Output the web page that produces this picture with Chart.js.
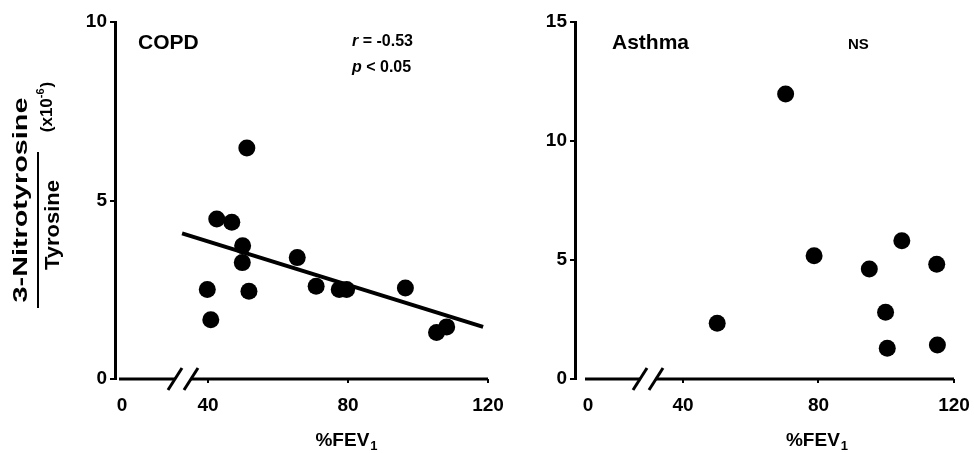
<!DOCTYPE html>
<html><head><meta charset="utf-8">
<script src="https://cdn.jsdelivr.net/npm/chart.js@4.4.1/dist/chart.umd.min.js"></script>
<style>
html,body{margin:0;padding:0;background:#fff;overflow:hidden;}
#wrap{position:relative;width:974px;height:453px;background:#fff;}
#c1{position:absolute;left:0;top:0;}
#c2{position:absolute;left:500px;top:0;}
</style></head><body>
<div id="wrap"><canvas id="c1" width="520" height="453"></canvas><canvas id="c2" width="474" height="453"></canvas></div>
<script>
// ---- data ----
const copdFev1  = [51.1, 42.5, 46.8, 49.9, 49.8, 65.5, 39.8, 51.7, 40.8, 70.9, 77.5, 79.6, 96.4, 105.3, 108.2];
const copdRatio = [6.47, 4.48, 4.39, 3.73, 3.26, 3.40, 2.51, 2.46, 1.66, 2.60, 2.51, 2.51, 2.55, 1.30, 1.46];
const copdFitFev1  = [32.6, 118.6];
const copdFitRatio = [4.08, 1.46];
const asthmaFev1  = [70.3, 78.7, 104.6, 95.0, 114.9, 99.8, 50.1, 100.3, 115.1];
const asthmaRatio = [11.97, 5.18, 5.81, 4.62, 4.82, 2.80, 2.34, 1.29, 1.43];
const xTickValues = [40, 80, 120];
const xOriginLabel = '0';
const copdYTicks = [0, 5, 10];
const asthmaYTicks = [0, 5, 10, 15];
const copdTitle = 'COPD';
const asthmaTitle = 'Asthma';
const copdStats = ['r', ' = -0.53', 'p', ' < 0.05'];
const asthmaStats = 'NS';
const xTitle = ['%FEV', '1'];
const yTitle = {num: '3-Nitrotyrosine', den: 'Tyrosine', unit: ['(x10', '-6', ')']};

const FONT = '"Liberation Sans", Arial, Helvetica, sans-serif';
Chart.defaults.font.family = FONT;
Chart.defaults.font.weight = 'bold';
Chart.defaults.color = '#000';

const toPts = (xs, ys) => xs.map((x, i) => ({x: x, y: ys[i]}));

const decor = {
  id: 'decor',
  afterDraw(chart, args, o) {
    const ctx = chart.ctx, xs = chart.scales.x, a = chart.chartArea;
    const y0 = a.bottom;
    ctx.save();
    ctx.strokeStyle = '#000'; ctx.fillStyle = '#000';
    // broken x axis line
    const xo = xs.getPixelForValue(o.origin), b1 = xs.getPixelForValue(o.break1),
          b2 = xs.getPixelForValue(o.break2), xe = xs.getPixelForValue(xs.max);
    ctx.lineWidth = 3; ctx.lineCap = 'butt';
    ctx.beginPath(); ctx.moveTo(xo - 3, y0); ctx.lineTo(b1, y0); ctx.moveTo(b2, y0); ctx.lineTo(xe, y0); ctx.stroke();
    [b1, b2].forEach(cx => { ctx.beginPath(); ctx.moveTo(cx - 7, y0 + 11); ctx.lineTo(cx + 7, y0 - 11); ctx.stroke(); });
    // panel title
    ctx.textBaseline = 'middle'; ctx.textAlign = 'left';
    ctx.font = 'bold 21px ' + FONT;
    ctx.fillText(o.title, o.titleX, 43);
    // stats
    if (o.stats) {
      ctx.font = 'italic bold 16px ' + FONT;
      ctx.fillText(o.stats[0], o.statsX, 42);
      let w = ctx.measureText(o.stats[0]).width;
      ctx.font = 'bold 16px ' + FONT;
      ctx.fillText(o.stats[1], o.statsX + w, 42);
      ctx.font = 'italic bold 16px ' + FONT;
      ctx.fillText(o.stats[2], o.statsX, 68);
      w = ctx.measureText(o.stats[2]).width;
      ctx.font = 'bold 16px ' + FONT;
      ctx.fillText(o.stats[3], o.statsX + w, 68);
    }
    if (o.ns) {
      ctx.font = 'bold 15px ' + FONT;
      ctx.fillText(o.ns, o.nsX, 45);
    }
    // x axis title with subscript
    ctx.font = 'bold 19px ' + FONT;
    const w1 = ctx.measureText(xTitle[0]).width;
    ctx.font = 'bold 13px ' + FONT;
    const w2 = ctx.measureText(xTitle[1]).width;
    const cx = (xs.getPixelForValue(40) + xs.getPixelForValue(120)) / 2 - 2;
    const sx = cx - (w1 + w2) / 2;
    ctx.font = 'bold 19px ' + FONT;
    ctx.fillText(xTitle[0], sx, 441);
    ctx.font = 'bold 13px ' + FONT;
    ctx.fillText(xTitle[1], sx + w1 + 1, 446);
    // y axis title (fraction)
    if (o.yLabel) {
      const yl = o.yLabel;
      ctx.textAlign = 'center';
      ctx.save();
      ctx.translate(21, 200); ctx.rotate(-Math.PI / 2);
      ctx.font = 'bold 21px ' + FONT;
      let w = ctx.measureText(yl.num).width;
      ctx.scale(205 / w, 1);
      ctx.fillText(yl.num, 0, 0);
      ctx.restore();
      ctx.save();
      ctx.translate(53, 225); ctx.rotate(-Math.PI / 2);
      ctx.font = 'bold 21px ' + FONT;
      w = ctx.measureText(yl.den).width;
      ctx.scale(90 / w, 1);
      ctx.fillText(yl.den, 0, 0);
      ctx.restore();
      ctx.lineWidth = 2;
      ctx.beginPath(); ctx.moveTo(38, 152); ctx.lineTo(38, 308); ctx.stroke();
      ctx.save();
      ctx.translate(47, 107); ctx.rotate(-Math.PI / 2);
      ctx.textAlign = 'left';
      ctx.font = 'bold 17px ' + FONT;
      const u0 = ctx.measureText(yl.unit[0]).width, u2 = ctx.measureText(yl.unit[2]).width;
      ctx.font = 'bold 11px ' + FONT;
      const u1 = ctx.measureText(yl.unit[1]).width;
      let px = -(u0 + u1 + u2 + 1) / 2;
      ctx.font = 'bold 17px ' + FONT;
      ctx.fillText(yl.unit[0], px, 0); px += u0;
      ctx.font = 'bold 11px ' + FONT;
      ctx.fillText(yl.unit[1], px, -6); px += u1 + 1;
      ctx.font = 'bold 17px ' + FONT;
      ctx.fillText(yl.unit[2], px, 0);
      ctx.restore();
    }
    ctx.restore();
  }
};

function makeChart(canvas, cfg) {
  return new Chart(canvas, {
    type: 'scatter',
    data: { datasets: cfg.datasets },
    options: {
      responsive: false, animation: false, events: [],
      layout: { padding: { left: 0, right: cfg.padRight, top: 22, bottom: 0 } },
      plugins: { legend: { display: false }, tooltip: { enabled: false }, decor: cfg.decor },
      scales: {
        x: {
          type: 'linear', min: cfg.xMin, max: 120,
          afterBuildTicks: s => { s.ticks = [cfg.decor.origin].concat(xTickValues).map(v => ({ value: v })); },
          afterFit: s => { s.height = 74; s.paddingLeft = 0; s.paddingRight = 0; },
          border: { display: false },
          grid: { drawOnChartArea: false, drawTicks: true, tickLength: 4, lineWidth: 2,
                  color: c => (c.tick && c.tick.value === cfg.decor.origin) ? 'rgba(0,0,0,0)' : '#000' },
          ticks: { color: '#000', font: { size: 19, weight: 'bold' }, padding: 11, maxRotation: 0, autoSkip: false,
                   callback: v => v === cfg.decor.origin ? xOriginLabel : String(v) }
        },
        y: {
          type: 'linear', min: 0, max: cfg.yMax,
          afterBuildTicks: s => { s.ticks = cfg.yTicks.map(v => ({ value: v })); },
          afterFit: s => { s.width = cfg.yWidth; s.paddingTop = 0; s.paddingBottom = 0; },
          border: { display: true, color: '#000', width: 3 },
          grid: { drawOnChartArea: false, drawTicks: true, tickLength: 5, lineWidth: 2, color: '#000' },
          ticks: { color: '#000', font: { size: 19, weight: 'bold' }, padding: 3 }
        }
      }
    },
    plugins: [decor]
  });
}

makeChart(document.getElementById('c1'), {
  padRight: 32, yWidth: 115, xMin: 13.43, yMax: 10, yTicks: copdYTicks,
  datasets: [
    { type: 'line', data: toPts(copdFitFev1, copdFitRatio), borderColor: '#000', borderWidth: 4,
      pointRadius: 0, fill: false, clip: false, order: 2 },
    { type: 'scatter', data: toPts(copdFev1, copdRatio), backgroundColor: '#000', borderColor: '#000',
      borderWidth: 0, pointRadius: 8.5, clip: false, order: 1 }
  ],
  decor: { origin: 15.43, break1: 30.57, break2: 35.14, title: copdTitle, titleX: 138,
           stats: copdStats, statsX: 352, yLabel: yTitle }
});

makeChart(document.getElementById('c2'), {
  padRight: 20, yWidth: 75, xMin: 8.12, yMax: 15, yTicks: asthmaYTicks,
  datasets: [
    { type: 'scatter', data: toPts(asthmaFev1, asthmaRatio), backgroundColor: '#000', borderColor: '#000',
      borderWidth: 0, pointRadius: 8.5, clip: false }
  ],
  decor: { origin: 11.96, break1: 27.31, break2: 32.03, title: asthmaTitle, titleX: 112,
           ns: asthmaStats, nsX: 348 }
});
</script>
</body></html>
